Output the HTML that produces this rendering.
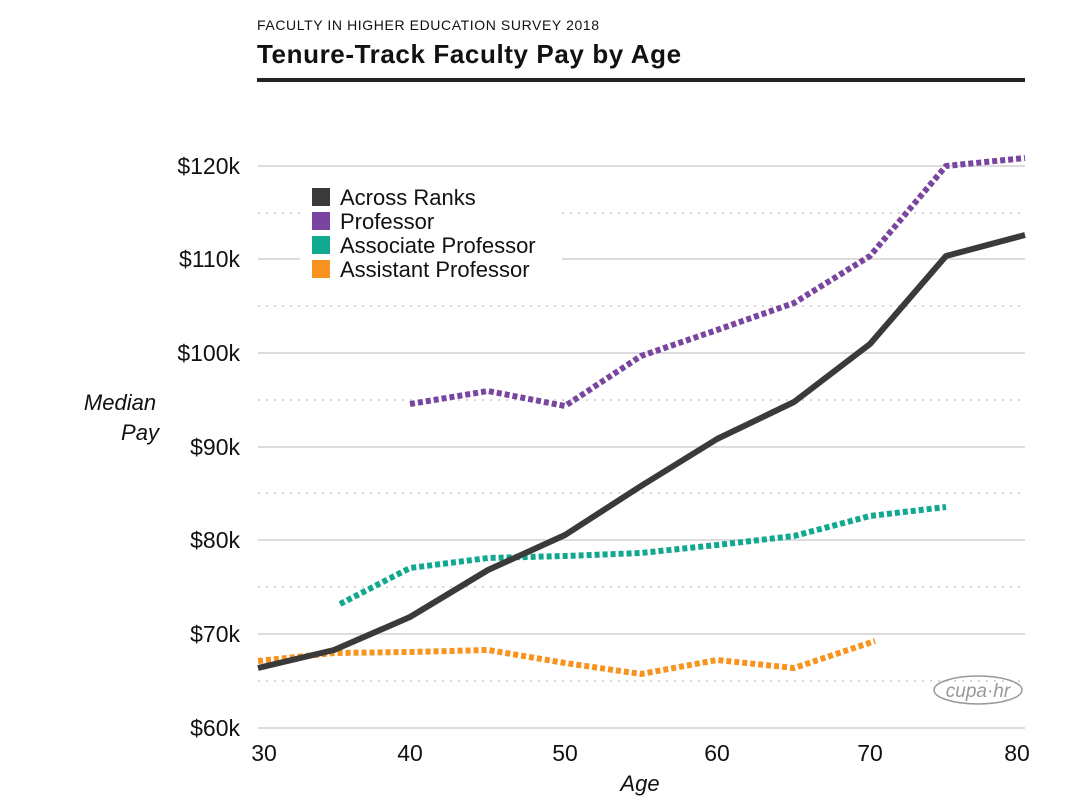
<!DOCTYPE html>
<html><head><style>
body{margin:0;background:#fff;width:1089px;height:806px;overflow:hidden;font-family:"Liberation Sans",sans-serif}
</style></head><body>
<svg width="1089" height="806" xmlns="http://www.w3.org/2000/svg" font-family="Liberation Sans, sans-serif">
<text x="257" y="30" font-size="14" letter-spacing="0.6" fill="#111">FACULTY IN HIGHER EDUCATION SURVEY 2018</text>
<text x="257" y="63" font-size="26" font-weight="bold" letter-spacing="0.6" fill="#111">Tenure-Track Faculty Pay by Age</text>
<rect x="257" y="78" width="768" height="4" fill="#222"/>
<g stroke="#c8c8c8" stroke-width="1.2">
<line x1="258" x2="1025" y1="166" y2="166"/><line x1="258" x2="1025" y1="259" y2="259"/>
<line x1="258" x2="1025" y1="353" y2="353"/><line x1="258" x2="1025" y1="447" y2="447"/>
<line x1="258" x2="1025" y1="540" y2="540"/><line x1="258" x2="1025" y1="634" y2="634"/>
<line x1="258" x2="1025" y1="728" y2="728"/>
</g>
<g stroke="#c8c8c8" stroke-width="1.5" stroke-dasharray="2 6">
<line x1="258" x2="1025" y1="213" y2="213"/><line x1="258" x2="1025" y1="306" y2="306"/>
<line x1="258" x2="1025" y1="400" y2="400"/><line x1="258" x2="1025" y1="493" y2="493"/>
<line x1="258" x2="1025" y1="587" y2="587"/><line x1="258" x2="1025" y1="681" y2="681"/>
</g>
<rect x="300" y="180" width="262" height="102" fill="#fff"/>
<g font-size="23" fill="#111" text-anchor="end">
<text x="240" y="174">$120k</text><text x="240" y="267">$110k</text><text x="240" y="361">$100k</text>
<text x="240" y="455">$90k</text><text x="240" y="548">$80k</text><text x="240" y="642">$70k</text><text x="240" y="736">$60k</text>
</g>
<g font-size="23" fill="#111" text-anchor="middle">
<text x="264" y="761">30</text><text x="410" y="761">40</text><text x="565" y="761">50</text>
<text x="717" y="761">60</text><text x="870" y="761">70</text><text x="1017" y="761">80</text>
</g>
<text x="640" y="791" font-size="22" font-style="italic" text-anchor="middle" fill="#111">Age</text>
<text x="120" y="410" font-size="22" font-style="italic" text-anchor="middle" fill="#111">Median</text>
<text x="140" y="440" font-size="22" font-style="italic" text-anchor="middle" fill="#111">Pay</text>
<g fill="none" stroke-linejoin="round">
<polyline stroke="#7a45a0" stroke-width="6" stroke-dasharray="5 3" points="410,404 488,391 565,406 641,356 717,330 794,303 870,256 946,166 1025,158"/>
<polyline stroke="#11a890" stroke-width="6" stroke-dasharray="5 3" points="340,604 410,568 488,558 565,556 641,553 717,545 794,536 870,516 946,507"/>
<polyline stroke="#f7931e" stroke-width="6" stroke-dasharray="5 3" points="258,661 334,653 410,652 488,650 565,663 641,674 717,660 794,668 875,641"/>
<polyline stroke="#3a3a3a" stroke-width="6" points="258,668 334,650 410,617 488,570 565,535 641,486 717,439 794,402 870,344 946,256 1025,235"/>
</g>
<g font-size="22" fill="#111">
<rect x="312" y="188" width="18" height="18" fill="#3a3a3a"/><text x="340" y="205">Across Ranks</text>
<rect x="312" y="212" width="18" height="18" fill="#7a45a0"/><text x="340" y="229">Professor</text>
<rect x="312" y="236" width="18" height="18" fill="#11a890"/><text x="340" y="253">Associate Professor</text>
<rect x="312" y="260" width="18" height="18" fill="#f7931e"/><text x="340" y="277">Assistant Professor</text>
</g>
<ellipse cx="978" cy="690" rx="44" ry="14" fill="none" stroke="#999" stroke-width="1.5"/>
<text x="978" y="697" font-size="19" font-style="italic" fill="#999" text-anchor="middle">cupa·hr</text>
</svg>
</body></html>
